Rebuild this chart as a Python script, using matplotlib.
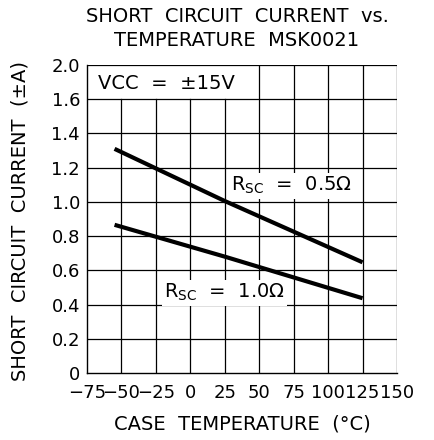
import matplotlib
matplotlib.use("Agg")
import matplotlib.pyplot as plt

# Data
temp_05 = [-55, 25, 125]
curr_05 = [1.31, 1.005, 0.647]
temp_10 = [-55, 25, 125]
curr_10 = [0.866, 0.68, 0.437]

x_ticks = [-75, -50, -25, 0, 25, 50, 75, 100, 125, 150]
x_tick_labels = ["\u221275", "\u221250", "\u221225", "0", "25", "50", "75", "100", "125", "150"]
y_ticks = [0, 0.2, 0.4, 0.6, 0.8, 1.0, 1.2, 1.4, 1.6, 1.8]
y_tick_labels = ["0", "0.2", "0.4", "0.6", "0.8", "1.0", "1.2", "1.4", "1.6", "2.0"]

plt.rcParams['font.family'] = ['DejaVu Sans']
plt.rcParams['mathtext.default'] = 'regular'

fig = plt.figure(figsize=(4.34, 4.40), dpi=100)
ax = fig.add_axes([87/434, 1 - 373/440, 310/434, 308/440])
ax.set_xlim(-75, 150)
ax.set_ylim(0, 1.8)

# grid
for yv in y_ticks[1:]:
    ax.axhline(yv, color='black', lw=0.9, zorder=1)
for xv in x_ticks[1:]:
    top = 1.8 if xv >= 50 else 1.6
    ax.plot([xv, xv], [0, top], color='black', lw=0.9, zorder=1)

ax.plot(temp_05, curr_05, color='black', lw=3.0, solid_capstyle='butt', zorder=3)
ax.plot(temp_10, curr_10, color='black', lw=3.0, solid_capstyle='butt', zorder=3)

ax.set_xticks(x_ticks)
ax.set_xticklabels(x_tick_labels, fontsize=13)
ax.set_yticks(y_ticks)
ax.set_yticklabels(y_tick_labels, fontsize=13)
ax.tick_params(axis='x', length=0, pad=8)
ax.tick_params(axis='y', length=0, pad=5)
for s in ['top', 'right']:
    ax.spines[s].set_visible(False)
for s in ['left', 'bottom']:
    ax.spines[s].set_linewidth(1.0)

ax.text(-67, 1.69, "VCC  =  \u00b115V", fontsize=14, va='center', ha='left', zorder=5)

bb = dict(boxstyle='square,pad=0.12', fc='white', ec='none')
ax.text(73, 1.095, "R$_{SC}$  =  0.5\u03a9", fontsize=14, ha='center', va='center',
        bbox=bb, zorder=4)
ax.text(25, 0.47, "R$_{SC}$  =  1.0\u03a9", fontsize=14, ha='center', va='center',
        bbox=bb, zorder=4)

ax.set_xlabel("CASE  TEMPERATURE  (\u00b0C)", fontsize=14, labelpad=9)
ax.set_ylabel("SHORT  CIRCUIT  CURRENT  (\u00b1A)", fontsize=14)
ax.yaxis.set_label_coords(-0.187, 0.495)

fig.text(237/434, 1 - 16/440, "SHORT  CIRCUIT  CURRENT  vs.", fontsize=14, ha='center', va='center')
fig.text(237/434, 1 - 41/440, "TEMPERATURE  MSK0021", fontsize=14, ha='center', va='center')

fig.savefig("out.png", dpi=100)
